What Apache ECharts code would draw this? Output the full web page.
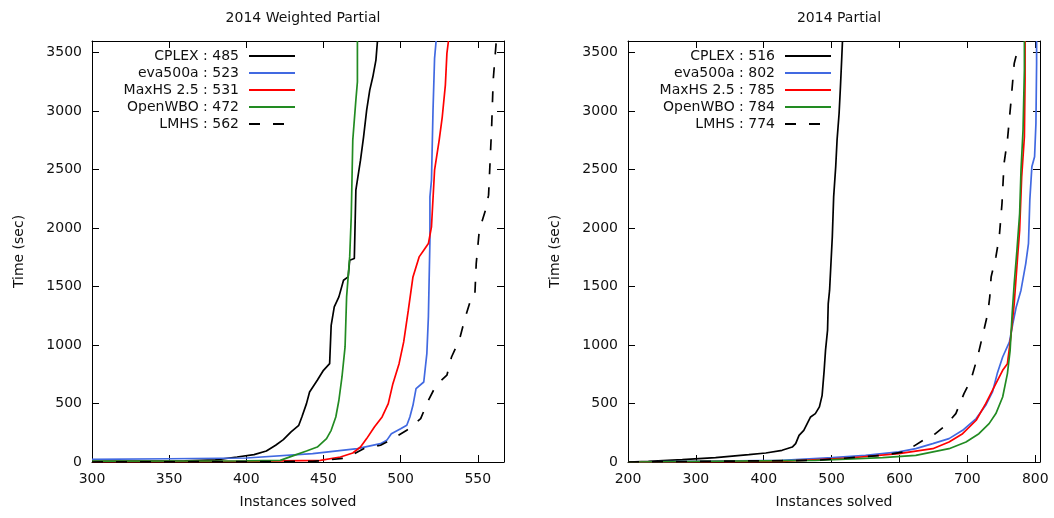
<!DOCTYPE html>
<html>
<head>
<meta charset="utf-8">
<script src="https://cdn.jsdelivr.net/npm/echarts@6/dist/echarts.min.js"></script>
<style>
html,body{margin:0;padding:0;background:#fff;}
#chart{width:1054px;height:518px;}
</style>
</head>
<body>
<div id="chart"></div>
<script>
// ---- Data (instances solved, time in sec) ----
const titles = ['2014 Weighted Partial', '2014 Partial'];
const solverNames = ['CPLEX', 'eva500a', 'MaxHS 2.5', 'OpenWBO', 'LMHS'];
const wpCounts = [485, 523, 531, 472, 562];
const pCounts = [516, 802, 785, 784, 774];
const xTicksLeft = [300, 567, 50];
const xTicksRight = [200, 807, 100];
const yTicks = [0, 3600, 500];

const wpCplex = [[300,5],[360,10],[380,18],[394,43],[405,63],[413,94],[419,143],[424,191],[429,257],[434,314],[436,385],[439,499],[441,599],[446,699],[450,784],[454,841],[455,1169],[457,1326],[460,1412],[463,1554],[466,1583],[467,1725],[470,1740],[471,2324],[474,2581],[476,2781],[478,3009],[480,3180],[482,3294],[484,3437],[485,3600]];
const wpEva = [[300,23],[350,28],[400,34],[443,71],[472,114],[487,157],[491,185],[494,242],[500,285],[504,314],[506,385],[508,485],[510,627],[515,684],[517,927],[518,1241],[519,1897],[519,2267],[520,2410],[521,3009],[522,3451],[523,3600]];
const wpMaxhs = [[300,3],[400,5],[448,14],[461,43],[469,77],[474,128],[478,200],[483,299],[488,385],[492,499],[495,670],[499,841],[502,1027],[505,1298],[508,1583],[512,1754],[515,1811],[518,1868],[520,2011],[522,2495],[525,2752],[527,2952],[529,3223],[530,3494],[531,3600]];
const wpOwbo = [[300,8],[400,10],[422,14],[431,57],[439,94],[446,128],[452,200],[455,271],[458,385],[460,528],[462,727],[464,984],[465,1412],[467,1754],[468,2096],[469,2752],[471,3094],[472,3251],[472,3600]];
const wpLmhs = [[300,0],[443,5],[465,34],[476,114],[487,143],[495,200],[504,271],[513,371],[518,528],[523,656],[530,742],[533,898],[538,1041],[542,1241],[545,1369],[548,1397],[549,1697],[551,1982],[555,2153],[557,2282],[559,2867],[560,3265],[562,3600]];

const pCplex = [[200,0],[230,5],[280,20],[329,37],[378,63],[403,77],[427,100],[442,128],[447,157],[452,228],[459,271],[464,328],[469,385],[476,414],[482,471],[486,570],[489,784],[491,955],[494,1127],[495,1355],[497,1469],[499,1697],[501,1925],[503,2267],[506,2524],[508,2752],[511,2980],[513,3209],[515,3465],[516,3600]];
const pEva = [[200,0],[427,14],[501,37],[550,57],[599,86],[624,114],[649,157],[673,200],[693,271],[713,371],[727,485],[737,599],[744,756],[752,898],[762,1027],[767,1184],[772,1326],[779,1469],[786,1697],[790,1868],[792,2239],[795,2524],[799,2610],[801,2895],[802,3408],[802,3600]];
const pMaxhs = [[200,0],[427,5],[526,34],[599,71],[649,114],[673,171],[693,242],[713,357],[727,499],[742,670],[752,784],[759,841],[764,1070],[769,1355],[774,1754],[777,1982],[780,2438],[784,2781],[785,3266],[785,3600]];
const pOwbo = [[200,0],[476,14],[575,37],[624,57],[673,114],[698,171],[717,242],[732,328],[742,414],[752,556],[759,756],[763,955],[766,1269],[769,1526],[773,1811],[777,2125],[779,2495],[782,2838],[784,3351],[784,3600]];
const pLmhs = [[200,0],[476,14],[575,57],[614,94],[619,128],[639,200],[653,242],[668,314],[683,414],[695,585],[705,699],[715,898],[722,1070],[730,1269],[733,1412],[735,1583],[742,1754],[747,1925],[751,2210],[754,2552],[759,2752],[764,3066],[769,3408],[774,3520]];

// ---- Styles ----
const colors = ['#000000', '#4169e1', '#ff0000', '#228b22', '#000000'];
const FONT = 'DejaVu Sans';
const TXT = '#111';

function xAx(gi, t, top, name) {
  return {
    type: 'value', gridIndex: gi, position: top ? 'top' : 'bottom',
    min: t[0], max: t[1], interval: t[2],
    name: top ? '' : name, nameLocation: 'middle', nameGap: 33,
    nameTextStyle: {fontFamily: FONT, fontSize: 14, color: TXT},
    axisLine: {show: true, onZero: false, lineStyle: {color: '#000', width: 1}},
    axisTick: {show: true, inside: true, length: 7, lineStyle: {color: '#000'}},
    axisLabel: {show: !top, margin: 10, fontFamily: FONT, fontSize: 14, color: TXT, showMaxLabel: false,
      formatter: v => String(v)},
    splitLine: {show: false}
  };
}
function yAx(gi, right, name) {
  return {
    type: 'value', gridIndex: gi, position: right ? 'right' : 'left',
    min: yTicks[0], max: yTicks[1], interval: yTicks[2],
    name: right ? '' : name, nameLocation: 'middle', nameGap: 66,
    nameTextStyle: {fontFamily: FONT, fontSize: 14, color: TXT},
    axisLine: {show: true, onZero: false, lineStyle: {color: '#000', width: 1}},
    axisTick: {show: true, inside: true, length: 7, lineStyle: {color: '#000'}},
    axisLabel: {show: !right, margin: 10, fontFamily: FONT, fontSize: 14, color: TXT, showMaxLabel: false,
      formatter: v => String(v)},
    splitLine: {show: false}
  };
}

const leftData = [wpCplex, wpEva, wpMaxhs, wpOwbo, wpLmhs];
const rightData = [pCplex, pEva, pMaxhs, pOwbo, pLmhs];
const leftNames = solverNames.map((n, i) => n + ' : ' + wpCounts[i]);
const rightNames = solverNames.map((n, i) => n + ' : ' + pCounts[i]);

function mkSeries(names, data, xi, yi) {
  return names.map((n, i) => ({
    name: n, type: 'line', xAxisIndex: xi, yAxisIndex: yi,
    data: data[i], showSymbol: false, symbol: 'none', clip: true,
    color: colors[i],
    lineStyle: {color: colors[i], width: 1.7, type: i === 4 ? [11, 13] : 'solid'},
    z: i === 4 ? 5 : 3
  }));
}

function legend(names, right) {
  return {
    orient: 'vertical', align: 'right', right: right, top: 49, padding: 0,
    itemWidth: 46, itemHeight: 14, itemGap: 3, selectedMode: false,
    itemStyle: {opacity: 0},
    textStyle: {fontFamily: FONT, fontSize: 14, color: TXT, lineHeight: 14, padding: [0, 5, 0, 0]},
    data: names
  };
}

const chart = echarts.init(document.getElementById('chart'), null, {renderer: 'canvas'});
chart.setOption({
  animation: false,
  backgroundColor: '#fff',
  title: [
    {text: titles[0], left: 298, top: 6, textAlign: 'center', textStyle: {fontFamily: FONT, fontSize: 14, fontWeight: 'normal', color: TXT}},
    {text: titles[1], left: 834, top: 6, textAlign: 'center', textStyle: {fontFamily: FONT, fontSize: 14, fontWeight: 'normal', color: TXT}}
  ],
  grid: [
    {left: 92, top: 41, width: 412, height: 421, show: false},
    {left: 628, top: 41, width: 412, height: 421, show: false}
  ],
  xAxis: [xAx(0, xTicksLeft, false, 'Instances solved'), xAx(0, xTicksLeft, true, ''),
          xAx(1, xTicksRight, false, 'Instances solved'), xAx(1, xTicksRight, true, '')],
  yAxis: [yAx(0, false, 'Time (sec)'), yAx(0, true, ''), yAx(1, false, 'Time (sec)'), yAx(1, true, '')],
  legend: [legend(leftNames, 758), legend(rightNames, 222)],
  series: mkSeries(leftNames, leftData, 0, 0).concat(mkSeries(rightNames, rightData, 2, 2))
});
</script>
</body>
</html>
